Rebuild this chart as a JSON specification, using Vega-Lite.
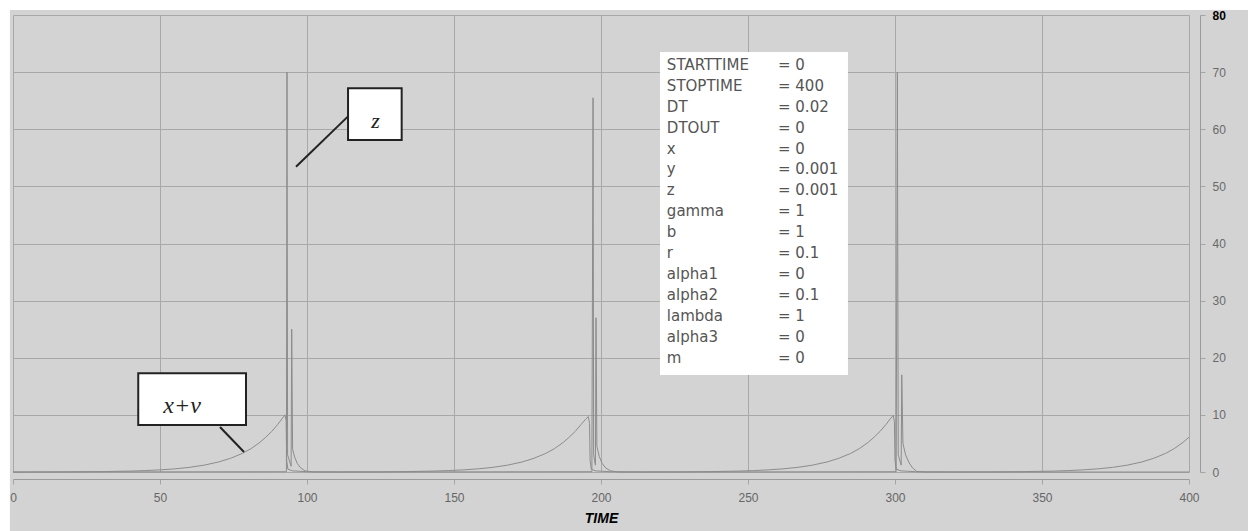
{
  "$schema": "https://vega.github.io/schema/vega-lite/v6.json",
  "width": 1176,
  "height": 457,
  "autosize": {"type": "none"},
  "padding": {"left": 13, "top": 15, "right": 59, "bottom": 59},
  "background": "#d3d3d3",
  "config": {"view": {"stroke": null}, "font": "Liberation Sans"},
  "datasets": {
    "series": [
      {"t":0,"v":0,"s":"x+v"},{"t":10,"v":0.01,"s":"x+v"},{"t":20,"v":0.03,"s":"x+v"},{"t":30,"v":0.07,"s":"x+v"},{"t":40,"v":0.16,"s":"x+v"},{"t":45,"v":0.25,"s":"x+v"},{"t":50,"v":0.37,"s":"x+v"},{"t":55,"v":0.55,"s":"x+v"},{"t":60,"v":0.81,"s":"x+v"},{"t":65,"v":1.2,"s":"x+v"},{"t":70,"v":1.76,"s":"x+v"},{"t":74,"v":2.4,"s":"x+v"},{"t":78,"v":3.25,"s":"x+v"},{"t":81,"v":4.1,"s":"x+v"},{"t":84,"v":5.2,"s":"x+v"},{"t":86,"v":6.1,"s":"x+v"},{"t":88,"v":7.1,"s":"x+v"},{"t":90,"v":8.3,"s":"x+v"},{"t":91.5,"v":9.3,"s":"x+v"},{"t":92.5,"v":10.0,"s":"x+v"},{"t":92.9,"v":9.0,"s":"x+v"},{"t":93.1,"v":2,"s":"x+v"},{"t":93.5,"v":0.5,"s":"x+v"},{"t":95,"v":0.2,"s":"x+v"},{"t":100,"v":0.05,"s":"x+v"},{"t":110,"v":0.02,"s":"x+v"},{"t":125,"v":0.03,"s":"x+v"},{"t":133.2,"v":0.07,"s":"x+v"},{"t":143.2,"v":0.16,"s":"x+v"},{"t":148.2,"v":0.25,"s":"x+v"},{"t":153.2,"v":0.37,"s":"x+v"},{"t":158.2,"v":0.55,"s":"x+v"},{"t":163.2,"v":0.81,"s":"x+v"},{"t":168.2,"v":1.2,"s":"x+v"},{"t":173.2,"v":1.76,"s":"x+v"},{"t":177.2,"v":2.4,"s":"x+v"},{"t":181.2,"v":3.25,"s":"x+v"},{"t":184.2,"v":4.1,"s":"x+v"},{"t":187.2,"v":5.2,"s":"x+v"},{"t":189.2,"v":6.1,"s":"x+v"},{"t":191.2,"v":7.1,"s":"x+v"},{"t":193.2,"v":8.3,"s":"x+v"},{"t":194.7,"v":9.2,"s":"x+v"},{"t":195.7,"v":9.7,"s":"x+v"},{"t":196.1,"v":8.5,"s":"x+v"},{"t":196.3,"v":2,"s":"x+v"},{"t":196.7,"v":0.5,"s":"x+v"},{"t":198,"v":0.2,"s":"x+v"},{"t":203,"v":0.05,"s":"x+v"},{"t":215,"v":0.02,"s":"x+v"},{"t":228,"v":0.03,"s":"x+v"},{"t":236.9,"v":0.07,"s":"x+v"},{"t":246.9,"v":0.16,"s":"x+v"},{"t":251.9,"v":0.25,"s":"x+v"},{"t":256.9,"v":0.37,"s":"x+v"},{"t":261.9,"v":0.55,"s":"x+v"},{"t":266.9,"v":0.81,"s":"x+v"},{"t":271.9,"v":1.2,"s":"x+v"},{"t":276.9,"v":1.76,"s":"x+v"},{"t":280.9,"v":2.4,"s":"x+v"},{"t":284.9,"v":3.25,"s":"x+v"},{"t":287.9,"v":4.1,"s":"x+v"},{"t":290.9,"v":5.2,"s":"x+v"},{"t":292.9,"v":6.1,"s":"x+v"},{"t":294.9,"v":7.1,"s":"x+v"},{"t":296.9,"v":8.3,"s":"x+v"},{"t":298.4,"v":9.3,"s":"x+v"},{"t":299.4,"v":9.9,"s":"x+v"},{"t":299.8,"v":8.8,"s":"x+v"},{"t":300.0,"v":2,"s":"x+v"},{"t":300.4,"v":0.5,"s":"x+v"},{"t":302,"v":0.2,"s":"x+v"},{"t":307,"v":0.05,"s":"x+v"},{"t":320,"v":0.02,"s":"x+v"},{"t":334,"v":0.03,"s":"x+v"},{"t":344,"v":0.07,"s":"x+v"},{"t":354,"v":0.16,"s":"x+v"},{"t":359,"v":0.25,"s":"x+v"},{"t":364,"v":0.37,"s":"x+v"},{"t":369,"v":0.55,"s":"x+v"},{"t":374,"v":0.81,"s":"x+v"},{"t":379,"v":1.2,"s":"x+v"},{"t":384,"v":1.76,"s":"x+v"},{"t":388,"v":2.4,"s":"x+v"},{"t":392,"v":3.25,"s":"x+v"},{"t":395,"v":4.1,"s":"x+v"},{"t":398,"v":5.2,"s":"x+v"},{"t":400,"v":6.1,"s":"x+v"},
      {"t":0,"v":0,"s":"z"},{"t":93.0,"v":0.05,"s":"z"},{"t":93.2,"v":70,"s":"z"},{"t":93.4,"v":3,"s":"z"},{"t":94.6,"v":1,"s":"z"},{"t":94.8,"v":25,"s":"z"},{"t":95.1,"v":4,"s":"z"},{"t":95.8,"v":2.6,"s":"z"},{"t":96.7,"v":1.5,"s":"z"},{"t":97.7,"v":0.8,"s":"z"},{"t":99.3,"v":0.2,"s":"z"},{"t":102,"v":0,"s":"z"},{"t":196.9,"v":0.05,"s":"z"},{"t":197.3,"v":65.5,"s":"z"},{"t":197.5,"v":3,"s":"z"},{"t":198.1,"v":1.2,"s":"z"},{"t":198.3,"v":27,"s":"z"},{"t":198.6,"v":4.5,"s":"z"},{"t":199.4,"v":2.7,"s":"z"},{"t":200.4,"v":1.5,"s":"z"},{"t":201.6,"v":0.7,"s":"z"},{"t":203.2,"v":0.2,"s":"z"},{"t":206,"v":0,"s":"z"},{"t":300.4,"v":0.05,"s":"z"},{"t":300.8,"v":70,"s":"z"},{"t":301.1,"v":3,"s":"z"},{"t":302.1,"v":1.2,"s":"z"},{"t":302.3,"v":17,"s":"z"},{"t":302.7,"v":5,"s":"z"},{"t":303.6,"v":3,"s":"z"},{"t":304.8,"v":1.6,"s":"z"},{"t":306,"v":0.7,"s":"z"},{"t":307.4,"v":0.1,"s":"z"},{"t":310,"v":0,"s":"z"},{"t":400,"v":0,"s":"z"}
    ],
    "params": [
      {"names": "STARTTIME\nSTOPTIME\nDT\nDTOUT\nx\ny\nz\ngamma\nb\nr\nalpha1\nalpha2\nlambda\nalpha3\nm",
       "vals": "= 0\n= 400\n= 0.02\n= 0\n= 0\n= 0.001\n= 0.001\n= 1\n= 1\n= 0.1\n= 0\n= 0.1\n= 1\n= 0\n= 0"}
    ],
    "one": [{}]
  },
  "encoding": {
    "x": {"type": "quantitative",
      "scale": {"domain": [0, 400], "nice": false, "zero": false},
      "axis": {"orient": "bottom", "offset": 7, "values": [0,50,100,150,200,250,300,350,400],
        "grid": true, "gridColor": "#a8a8a8", "gridOpacity": 1, "gridWidth": 1,
        "domainColor": "#9a9a9a", "tickColor": "#a5a5a5", "tickSize": 5, "labelPadding": 8,
        "labelFontSize": 12, "labelColor": "#666666", "labelFlush": false,
        "title": "TIME", "titleFontSize": 14, "titleFontWeight": "bold", "titleFontStyle": "italic",
        "titleColor": "#000000", "titlePadding": 8}},
    "y": {"type": "quantitative",
      "scale": {"domain": [0, 80], "nice": false},
      "axis": {"orient": "right", "offset": 11, "values": [0,10,20,30,40,50,60,70,80],
        "grid": true, "gridColor": "#a8a8a8", "gridOpacity": 1, "gridWidth": 1,
        "domainColor": "#9a9a9a", "tickColor": "#a5a5a5", "tickSize": 5, "labelPadding": 7,
        "labelFontSize": 12, "labelFlush": false,
        "labelColor": {"condition": {"test": "datum.value == 80", "value": "#000000"}, "value": "#6a6a6a"},
        "labelFontWeight": {"condition": {"test": "datum.value == 80", "value": "bold"}, "value": "normal"},
        "title": null}}
  },
  "layer": [
    {
      "data": {"name": "series"},
      "mark": {"type": "line", "color": "#8c8c8c", "strokeWidth": 1},
      "encoding": {
        "x": {"field": "t", "type": "quantitative"},
        "y": {"field": "v", "type": "quantitative"},
        "detail": {"field": "s", "type": "nominal"}
      }
    },
    {
      "data": {"name": "one"},
      "mark": {"type": "rect", "fill": "#ffffff"},
      "encoding": {
        "x": {"datum": -10, "type": "quantitative"},
        "x2": {"datum": -1.05},
        "y": {"datum": 95, "type": "quantitative"},
        "y2": {"datum": -15}
      }
    },
    {
      "data": {"name": "one"},
      "mark": {"type": "rect", "fill": "#ffffff"},
      "encoding": {
        "x": {"datum": -10, "type": "quantitative"},
        "x2": {"datum": 430},
        "y": {"datum": 95, "type": "quantitative"},
        "y2": {"datum": 80.88}
      }
    },
    {
      "data": {"name": "one"},
      "mark": {"type": "rect", "fill": "#ffffff"},
      "encoding": {
        "x": {"datum": 220.07, "type": "quantitative"},
        "x2": {"datum": 284.0},
        "y": {"datum": 73.52, "type": "quantitative"},
        "y2": {"datum": 16.98}
      }
    },
    {
      "data": {"name": "params"},
      "mark": {"type": "text", "align": "left", "baseline": "middle", "lineBreak": "\n", "lineHeight": 20.9, "fontSize": 15, "font": "DejaVu Sans", "color": "#555555"},
      "encoding": {
        "x": {"datum": 222.4, "type": "quantitative"},
        "y": {"datum": 71.25, "type": "quantitative"},
        "text": {"field": "names"}
      }
    },
    {
      "data": {"name": "params"},
      "mark": {"type": "text", "align": "left", "baseline": "middle", "lineBreak": "\n", "lineHeight": 20.9, "fontSize": 15, "font": "DejaVu Sans", "color": "#555555"},
      "encoding": {
        "x": {"datum": 260.2, "type": "quantitative"},
        "y": {"datum": 71.25, "type": "quantitative"},
        "text": {"field": "vals"}
      }
    },
    {
      "data": {"name": "one"},
      "mark": {"type": "rect", "fill": "#ffffff", "stroke": "#222222", "strokeWidth": 2},
      "encoding": {
        "x": {"datum": 113.96, "type": "quantitative"},
        "x2": {"datum": 132.2},
        "y": {"datum": 67.17, "type": "quantitative"},
        "y2": {"datum": 58.12}
      }
    },
    {
      "data": {"name": "one"},
      "mark": {"type": "text", "align": "center", "baseline": "alphabetic", "font": "Liberation Serif", "fontStyle": "italic", "fontSize": 22, "color": "#222222", "text": "z"},
      "encoding": {
        "x": {"datum": 123.3, "type": "quantitative"},
        "y": {"datum": 60.2, "type": "quantitative"}
      }
    },
    {
      "data": {"name": "one"},
      "mark": {"type": "rule", "color": "#222222", "strokeWidth": 2},
      "encoding": {
        "x": {"datum": 113.96, "type": "quantitative"},
        "y": {"datum": 62.25, "type": "quantitative"},
        "x2": {"datum": 96.26},
        "y2": {"datum": 53.45}
      }
    },
    {
      "data": {"name": "one"},
      "mark": {"type": "rect", "fill": "#ffffff", "stroke": "#222222", "strokeWidth": 2},
      "encoding": {
        "x": {"datum": 42.6, "type": "quantitative"},
        "x2": {"datum": 79.25},
        "y": {"datum": 17.28, "type": "quantitative"},
        "y2": {"datum": 8.23}
      }
    },
    {
      "data": {"name": "one"},
      "mark": {"type": "text", "align": "center", "baseline": "alphabetic", "font": "Liberation Serif", "fontStyle": "italic", "fontSize": 24, "color": "#222222", "text": "x+v"},
      "encoding": {
        "x": {"datum": 57.5, "type": "quantitative"},
        "y": {"datum": 10.33, "type": "quantitative"}
      }
    },
    {
      "data": {"name": "one"},
      "mark": {"type": "rule", "color": "#222222", "strokeWidth": 2},
      "encoding": {
        "x": {"datum": 70.4, "type": "quantitative"},
        "y": {"datum": 7.88, "type": "quantitative"},
        "x2": {"datum": 78.57},
        "y2": {"datum": 3.5}
      }
    }
  ]
}
